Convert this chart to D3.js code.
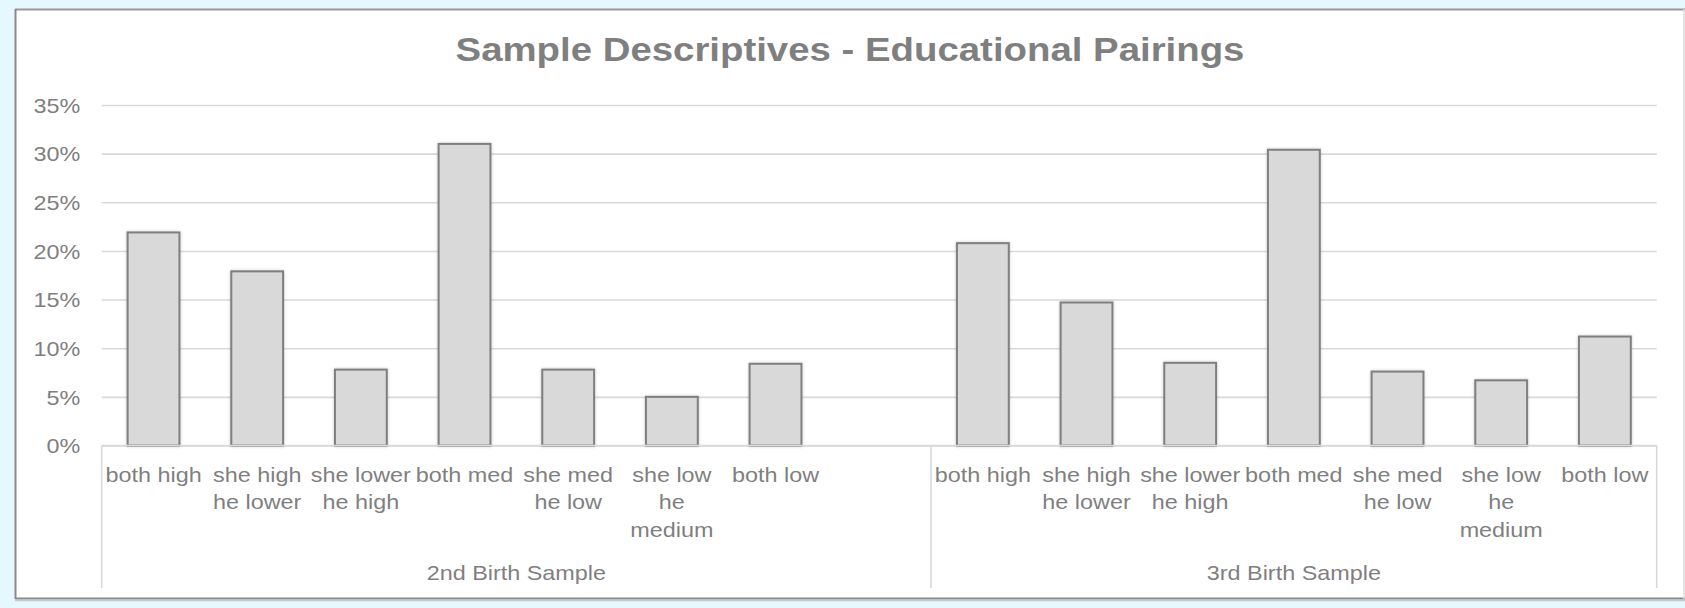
<!DOCTYPE html>
<html>
<head>
<meta charset="utf-8">
<script src="https://cdn.jsdelivr.net/npm/d3@7"></script>
<style>
  html, body { margin: 0; padding: 0; background: #e4f8fd; }
  svg { display: block; }
  text { font-family: "Liberation Sans", Arial, sans-serif; fill: #7f7f7f; }
</style>
</head>
<body>
<svg id="chart" width="1685" height="608"></svg>
<script>
// Educational pairing categories (multi-line labels)
const pairings = [
  ["both high"],
  ["she high", "he lower"],
  ["she lower", "he high"],
  ["both med"],
  ["she med", "he low"],
  ["she low", "he", "medium"],
  ["both low"]
];
const samples = ["2nd Birth Sample", "3rd Birth Sample"];
// Share of couples in each pairing
const secondBirth = [0.219, 0.179, 0.078, 0.310, 0.078, 0.050, 0.084];
const thirdBirth  = [0.208, 0.147, 0.085, 0.304, 0.076, 0.067, 0.112];
const yTicks = [0, 0.05, 0.10, 0.15, 0.20, 0.25, 0.30, 0.35];
const title = "Sample Descriptives - Educational Pairings";

// Flat list of slots: the first sample carries one empty trailing slot
const slots = [];
pairings.forEach((p, i) => slots.push({ key: "s0-" + i, group: 0, lines: p, value: secondBirth[i] }));
slots.push({ key: "s0-blank", group: 0, lines: [], value: null });
pairings.forEach((p, i) => slots.push({ key: "s1-" + i, group: 1, lines: p, value: thirdBirth[i] }));

const svg = d3.select("#chart");
const W = 1685, H = 608;
const plot = { left: 101.7, right: 1656.7, top: 105, bottom: 445.5 };
const sx = 1.17;          // horizontal text stretch
const textColor = "#7f7f7f";
const gridColor = "#d9d9d9";

// Chart frame
svg.append("rect").attr("x", 15).attr("y", 9).attr("width", W - 15).attr("height", 590).attr("fill", "#fff");
const frame = svg.append("g").attr("stroke-width", 2).attr("fill", "none");
frame.append("line").attr("x1", 15).attr("x2", W).attr("y1", 9.5).attr("y2", 9.5).attr("stroke", "#9a9a9a");
frame.append("line").attr("x1", 15.5).attr("x2", 15.5).attr("y1", 9).attr("y2", 599).attr("stroke", "#8a8a8a");
frame.append("line").attr("x1", 15).attr("x2", W).attr("y1", 598.5).attr("y2", 598.5).attr("stroke", "#8a8a8a");
frame.append("line").attr("x1", 15).attr("x2", W).attr("y1", 600.5).attr("y2", 600.5).attr("stroke", "#c4c8ca").attr("stroke-width", 1.5);
frame.append("line").attr("x1", 1684).attr("x2", 1684).attr("y1", 9).attr("y2", 599).attr("stroke", "#dcdcdc").attr("stroke-width", 1.5);

// Soft shadow on bars
const defs = svg.append("defs");
const f = defs.append("filter").attr("id", "barShadow").attr("x", "-20%").attr("y", "-5%").attr("width", "140%").attr("height", "110%");
f.append("feDropShadow").attr("dx", 0).attr("dy", 0).attr("stdDeviation", 1.6)
  .attr("flood-color", "#000").attr("flood-opacity", 0.22);

// Scales
const x = d3.scaleBand()
  .domain(slots.map(d => d.key))
  .range([plot.left, plot.right])
  .paddingInner(0.5)
  .paddingOuter(0.25);
const y = d3.scaleLinear().domain([0, 0.35]).range([plot.bottom, plot.top]);

// Gridlines
const grid = svg.append("g")
  .attr("transform", `translate(${plot.left},0)`)
  .call(d3.axisLeft(y).tickValues(yTicks).tickSize(-(plot.right - plot.left)).tickFormat(""));
grid.select(".domain").remove();
grid.selectAll(".tick line").attr("stroke", gridColor).attr("stroke-width", 1.6);

// Y axis labels
const yAxis = svg.append("g")
  .attr("transform", `translate(${plot.left},0)`)
  .call(d3.axisLeft(y).tickValues(yTicks).tickSize(0).tickPadding(21.5).tickFormat(d3.format(".0%")));
yAxis.select(".domain").remove();
yAxis.selectAll(".tick text")
  .attr("x", null).attr("dy", null)
  .attr("transform", `translate(-21.5,7.2) scale(${sx},1)`)
  .style("font-size", "20px").style("fill", textColor)
  .style("font-family", '"Liberation Sans", Arial, sans-serif');

// Bars
svg.append("g").selectAll("rect")
  .data(slots.filter(d => d.value !== null))
  .join("rect")
  .attr("x", d => x(d.key))
  .attr("y", d => y(d.value))
  .attr("width", x.bandwidth())
  .attr("height", d => y(0) - y(d.value))
  .attr("fill", "#d9d9d9")
  .attr("stroke", "#7f7f7f")
  .attr("stroke-width", 2)
  .attr("filter", "url(#barShadow)");

// Category axis baseline and group separators
const axisG = svg.append("g").attr("stroke", gridColor).attr("stroke-width", 1.6);
axisG.append("line").attr("x1", plot.left).attr("x2", plot.right).attr("y1", plot.bottom).attr("y2", plot.bottom);
const groupEdges = [0, 1].map(g => {
  const keys = slots.filter(d => d.group === g).map(d => d.key);
  const start = x(keys[0]) - x.step() * x.paddingInner() / 2;
  const end = x(keys[keys.length - 1]) + x.bandwidth() + x.step() * x.paddingInner() / 2;
  return [g === 0 ? plot.left : start, g === 1 ? plot.right : end];
});
const sepX = [plot.left, groupEdges[0][1], plot.right];
axisG.selectAll("line.sep").data(sepX).join("line").attr("class", "sep")
  .attr("x1", d => d).attr("x2", d => d).attr("y1", plot.bottom).attr("y2", 588);

// Category labels
const catG = svg.append("g");
slots.forEach(d => {
  const cx = x(d.key) + x.bandwidth() / 2;
  d.lines.forEach((line, li) => {
    catG.append("text")
      .attr("transform", `translate(${cx},${481.5 + li * 27.6}) scale(${sx},1)`)
      .attr("text-anchor", "middle")
      .style("font-size", "20px")
      .text(line);
  });
});

// Sample group labels
svg.append("g").selectAll("text")
  .data(samples)
  .join("text")
  .attr("transform", (d, i) => `translate(${(groupEdges[i][0] + groupEdges[i][1]) / 2},580) scale(${sx},1)`)
  .attr("text-anchor", "middle")
  .style("font-size", "20px")
  .text(d => d);

// Title
svg.append("text")
  .attr("transform", `translate(850,61) scale(${sx},1)`)
  .attr("text-anchor", "middle")
  .style("font-size", "32.8px")
  .style("font-weight", "bold")
  .text(title);
</script>
</body>
</html>
